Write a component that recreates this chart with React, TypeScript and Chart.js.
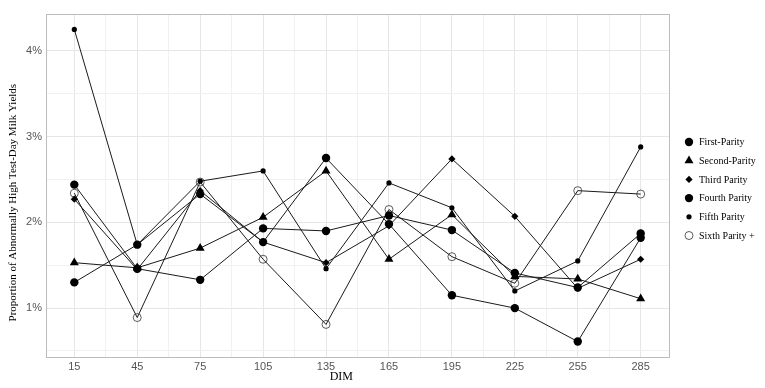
import React, { useEffect, useRef } from "react";
import { Chart, registerables } from "chart.js";
import { drawPoint } from "chart.js/helpers";

Chart.register(...registerables);

const dim = [15, 45, 75, 105, 135, 165, 195, 225, 255, 285];
const firstParity = [2.44, 1.46, 1.33, 1.93, 1.9, 2.08, 1.91, 1.41, 1.24, 1.87];
const secondParity = [1.53, 1.47, 1.7, 2.06, 2.6, 1.57, 2.09, 1.37, 1.34, 1.11];
const thirdParity = [2.27, 1.45, 2.37, 1.77, 1.53, 1.96, 2.74, 2.07, 1.23, 1.57];
const fourthParity = [1.3, 1.74, 2.33, 1.77, 2.75, 1.98, 1.15, 1.0, 0.61, 1.82];
const fifthParity = [4.25, 1.74, 2.48, 2.6, 1.46, 2.46, 2.17, 1.2, 1.55, 2.88];
const sixthParity = [2.34, 0.89, 2.47, 1.57, 0.81, 2.15, 1.6, 1.29, 2.37, 2.33];

const seriesLabels = [
  "First-Parity",
  "Second-Parity",
  "Third Parity",
  "Fourth Parity",
  "Fifth Parity",
  "Sixth Parity +",
];
const xTickValues = [15, 30, 45, 60, 75, 90, 105, 120, 135, 150, 165, 180, 195, 210, 225, 240, 255, 270, 285];
const xLabelled = [15, 45, 75, 105, 135, 165, 195, 225, 255, 285];
const yTickValues = [0.5, 1, 1.5, 2, 2.5, 3, 3.5, 4];
const yLabelled = [1, 2, 3, 4];
const xTitle = "DIM";
const yTitle = "Proportion of Abnormally High Test-Day Milk Yields";

export default function App() {
  const ref = useRef<HTMLCanvasElement>(null);

  useEffect(() => {
    const values = [firstParity, secondParity, thirdParity, fourthParity, fifthParity, sixthParity];
    const styles = [
      { pointStyle: "circle", radius: 4.2, fill: "#000", stroke: "#000", bw: 0 },
      { pointStyle: "triangle", radius: 5.2, fill: "#000", stroke: "#000", bw: 0 },
      { pointStyle: "rectRot", radius: 3.6, fill: "#000", stroke: "#000", bw: 0 },
      { pointStyle: "circle", radius: 4.2, fill: "#000", stroke: "#000", bw: 0 },
      { pointStyle: "circle", radius: 2.6, fill: "#000", stroke: "#000", bw: 0 },
      { pointStyle: "circle", radius: 4, fill: "rgba(0,0,0,0)", stroke: "#333", bw: 0.8 },
    ];

    const datasets = values.map((vals, i) => ({
      label: seriesLabels[i],
      data: dim.map((d, j) => ({ x: d, y: vals[j] })),
      borderColor: "#1a1a1a",
      borderWidth: 1,
      fill: false,
      tension: 0,
      pointStyle: styles[i].pointStyle,
      pointRadius: styles[i].radius,
      pointBackgroundColor: styles[i].fill,
      pointBorderColor: styles[i].stroke,
      pointBorderWidth: styles[i].bw,
    }));

    const framePlugin = {
      id: "frame",
      beforeDatasetsDraw(chart: any) {
        const { ctx, chartArea: a } = chart;
        ctx.save();
        ctx.strokeStyle = "#bcbcbc";
        ctx.lineWidth = 1;
        ctx.strokeRect(Math.round(a.left) + 0.5, Math.round(a.top) + 0.5, Math.round(a.right - a.left), Math.round(a.bottom - a.top));
        ctx.restore();
      },
      afterDraw(chart: any) {
        const { ctx, chartArea: a } = chart;
        ctx.save();
        ctx.fillStyle = "#000";
        ctx.textAlign = "center";
        ctx.textBaseline = "middle";
        ctx.font = '12px "Liberation Serif", "Times New Roman", serif';
        ctx.fillText(xTitle, a.left + (a.right - a.left) * 0.474, 377);
        ctx.font = '11px "Liberation Serif", "Times New Roman", serif';
        ctx.save();
        ctx.translate(13, a.top + (a.bottom - a.top) * 0.55);
        ctx.rotate(-Math.PI / 2);
        ctx.fillText(yTitle, 0, 0);
        ctx.restore();
        // legend
        ctx.font = '10px "Liberation Serif", "Times New Roman", serif';
        ctx.textAlign = "left";
        const lx = a.right + 20;
        const ly0 = 142;
        const step = 18.7;
        styles.forEach((s, i) => {
          const y = ly0 + i * step;
          ctx.fillStyle = s.fill;
          ctx.strokeStyle = s.stroke;
          ctx.lineWidth = s.bw;
          drawPoint(ctx, { pointStyle: s.pointStyle as any, radius: s.radius, rotation: 0, borderWidth: s.bw }, lx, y);
          ctx.fillStyle = "#000";
          ctx.fillText(seriesLabels[i], lx + 10, y + 0.5);
        });
        ctx.restore();
      },
    };

    const gridColor = (major: number[]) => (c: any) =>
      c.tick && major.includes(c.tick.value) ? "#e6e6e6" : "#f1f1f1";

    const chart = new Chart(ref.current as HTMLCanvasElement, {
      type: "line",
      data: { datasets: datasets as any },
      plugins: [framePlugin],
      options: {
        responsive: false,
        animation: false,
        devicePixelRatio: 1,
        layout: { padding: { top: 14, right: 96, bottom: 0, left: 0 } },
        plugins: { legend: { display: false }, tooltip: { enabled: false } },
        scales: {
          x: {
            type: "linear",
            min: 1.5,
            max: 298.5,
            afterBuildTicks: (s: any) => {
              s.ticks = xTickValues.map((v) => ({ value: v }));
            },
            afterFit: (s: any) => {
              s.height = 31;
            },
            ticks: {
              autoSkip: false,
              maxRotation: 0,
              padding: 3,
              color: "#555",
              font: { family: '"Liberation Sans", Arial, sans-serif', size: 11 },
              callback: (v: any) => (xLabelled.includes(Number(v)) ? String(v) : ""),
            },
            grid: { color: gridColor(xLabelled), lineWidth: 1, drawTicks: false },
            border: { display: false },
          },
          y: {
            type: "linear",
            min: 0.43,
            max: 4.43,
            afterBuildTicks: (s: any) => {
              s.ticks = yTickValues.map((v) => ({ value: v }));
            },
            afterFit: (s: any) => {
              s.width = 46;
            },
            ticks: {
              autoSkip: false,
              padding: 4,
              color: "#555",
              font: { family: '"Liberation Sans", Arial, sans-serif', size: 11 },
              callback: (v: any) => (yLabelled.includes(Number(v)) ? v + "%" : ""),
            },
            grid: { color: gridColor(yLabelled), lineWidth: 1, drawTicks: false },
            border: { display: false },
          },
        },
      },
    });
    return () => chart.destroy();
  }, []);

  return (
    <div style={{ position: "fixed", left: 0, top: 0, width: 765, height: 388, background: "#fff" }}>
      <canvas ref={ref} width={765} height={388} style={{ display: "block", width: 765, height: 388 }} />
    </div>
  );
}
